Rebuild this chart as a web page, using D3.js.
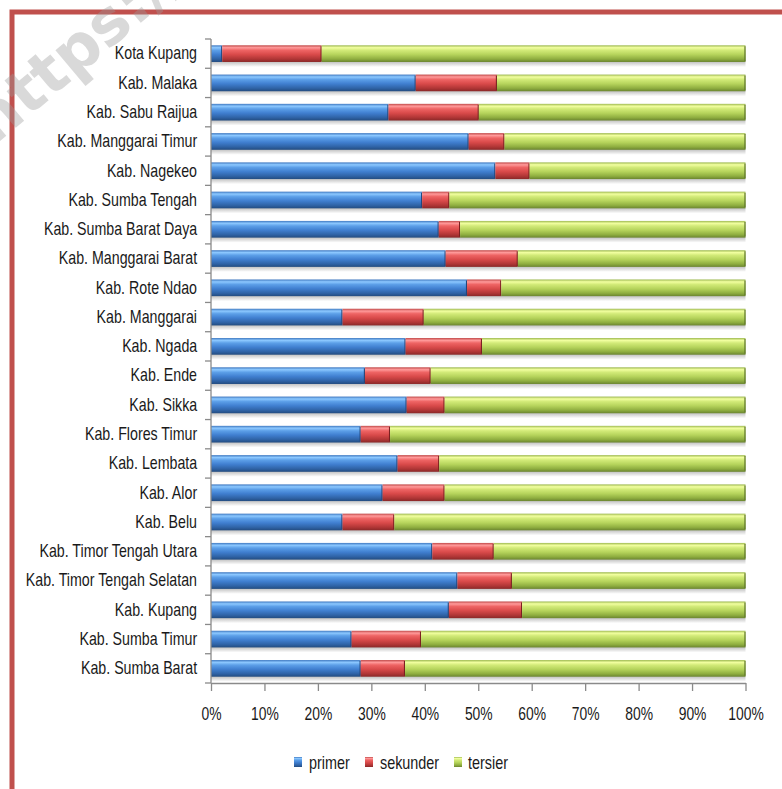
<!DOCTYPE html>
<html>
<head>
<meta charset="utf-8">
<script src="https://cdn.jsdelivr.net/npm/d3@7"></script>
<style>
  html, body { margin: 0; padding: 0; background: #fff; }
  svg { display: block; }
  text.lbl { font-family: "Liberation Sans", Arial, sans-serif; fill: #1a1a1a; transform-box: fill-box; }
  text.ylab { transform-origin: right center; transform: scaleX(0.79); }
  text.xlab { transform-origin: center center; transform: scaleX(0.77); }
  text.leg  { transform-origin: left center; transform: scaleX(0.8); }
</style>
</head>
<body>
<script>
// ---- data (top to bottom as drawn) ----
const categories = [
  "Kota Kupang", "Kab. Malaka", "Kab. Sabu Raijua", "Kab. Manggarai Timur",
  "Kab. Nagekeo", "Kab. Sumba Tengah", "Kab. Sumba Barat Daya", "Kab. Manggarai Barat",
  "Kab. Rote Ndao", "Kab. Manggarai", "Kab. Ngada", "Kab. Ende", "Kab. Sikka",
  "Kab. Flores Timur", "Kab. Lembata", "Kab. Alor", "Kab. Belu",
  "Kab. Timor Tengah Utara", "Kab. Timor Tengah Selatan", "Kab. Kupang",
  "Kab. Sumba Timur", "Kab. Sumba Barat"
];
const primer   = [2.1, 38.3, 33.2, 48.2, 53.2, 39.5, 42.6, 43.9, 47.9, 24.6, 36.4, 28.8, 36.6, 28.0, 34.9, 32.1, 24.6, 41.4, 46.1, 44.5, 26.3, 28.0];
const sekunder = [18.6, 15.2, 16.9, 6.7, 6.4, 5.1, 4.0, 13.5, 6.4, 15.2, 14.3, 12.3, 7.1, 5.5, 7.8, 11.6, 9.7, 11.5, 10.2, 13.7, 13.0, 8.3];
const tersier  = [79.3, 46.5, 49.9, 45.1, 40.4, 55.4, 53.4, 42.6, 45.7, 60.2, 49.3, 58.9, 56.3, 66.5, 57.3, 56.3, 65.7, 47.1, 43.7, 41.8, 60.7, 63.7];
const seriesNames = ["primer", "sekunder", "tersier"];
const xTicks = [0, 0.1, 0.2, 0.3, 0.4, 0.5, 0.6, 0.7, 0.8, 0.9, 1];

// ---- styles ----
const palette = {
  primer:   { stops: ["#3f78c0", "#8cc8ff", "#5c9fe8", "#407fd0", "#2f63a6", "#234c80"], edge: "#23467a" },
  sekunder: { stops: ["#c04848", "#ff9a9a", "#ee6464", "#d94a4a", "#b03636", "#8a2828"], edge: "#7a2020" },
  tersier:  { stops: ["#9cb850", "#f2ffa0", "#d2ea78", "#b6d45c", "#8fae40", "#6b8530"], edge: "#5d7428" }
};

const W = 782, H = 789;
const svg = d3.select("body").append("svg").attr("width", W).attr("height", H);
const defs = svg.append("defs");

Object.entries(palette).forEach(([k, p]) => {
  const g = defs.append("linearGradient").attr("id", "g-" + k)
    .attr("x1", 0).attr("y1", 0).attr("x2", 0).attr("y2", 1);
  const offs = [0, 0.14, 0.3, 0.55, 0.82, 1];
  p.stops.forEach((c, i) => g.append("stop").attr("offset", offs[i]).attr("stop-color", c));
});
const sh = defs.append("linearGradient").attr("id", "g-shadow")
  .attr("x1", 0).attr("y1", 0).attr("x2", 0).attr("y2", 1);
sh.append("stop").attr("offset", 0).attr("stop-color", "#000").attr("stop-opacity", 0.28);
sh.append("stop").attr("offset", 1).attr("stop-color", "#000").attr("stop-opacity", 0);

// ---- scales ----
const x = d3.scaleLinear().domain([0, 1]).range([211, 745.5]);
const y = d3.scaleBand().domain(categories).range([39, 683])
  .paddingInner(0.43).paddingOuter(0.215);

const rows = categories.map((c, i) => ({ cat: c, primer: primer[i], sekunder: sekunder[i], tersier: tersier[i] }));
const stacked = d3.stack().keys(seriesNames).offset(d3.stackOffsetExpand)(rows);

// ---- shadows under bars ----
svg.append("g").selectAll("rect").data(rows).join("rect")
  .attr("x", x(0)).attr("width", x(1) - x(0))
  .attr("y", d => y(d.cat) + y.bandwidth() - 1)
  .attr("height", 6)
  .attr("fill", "url(#g-shadow)");

// ---- bars ----
const layers = svg.append("g").selectAll("g").data(stacked).join("g");
layers.selectAll("rect").data(d => d.map(v => ({ v, key: d.key }))).join("rect")
  .attr("x", d => x(d.v[0]))
  .attr("width", d => Math.max(0, x(d.v[1]) - x(d.v[0])))
  .attr("y", d => y(d.v.data.cat))
  .attr("height", y.bandwidth())
  .attr("fill", d => "url(#g-" + d.key + ")");
layers.selectAll("line").data(d => d.map(v => ({ v, key: d.key }))).join("line")
  .attr("x1", d => x(d.v[1]) - 0.5).attr("x2", d => x(d.v[1]) - 0.5)
  .attr("y1", d => y(d.v.data.cat) + 1).attr("y2", d => y(d.v.data.cat) + y.bandwidth() - 1)
  .attr("stroke", d => palette[d.key].edge).attr("stroke-width", 1.2);

// ---- y axis ----
const axisColor = "#8a8a8a";
const yAxis = svg.append("g").attr("transform", `translate(${x(0)},0)`)
  .call(d3.axisLeft(y).tickSize(0).tickPadding(14));
yAxis.select(".domain").remove();
yAxis.attr("font-family", null);
yAxis.selectAll("text").attr("class", "lbl ylab").attr("font-size", 18).attr("fill", "#1a1a1a");
const step = y.step();
const boundaries = d3.range(categories.length + 1).map(i => 39 + i * step);
svg.append("g").selectAll("line").data(boundaries).join("line")
  .attr("x1", x(0) - 6).attr("x2", x(0))
  .attr("y1", d => d).attr("y2", d => d)
  .attr("stroke", axisColor).attr("stroke-width", 1.3);
svg.append("line").attr("x1", x(0)).attr("x2", x(0)).attr("y1", 39).attr("y2", 683)
  .attr("stroke", axisColor).attr("stroke-width", 1.3);

// ---- x axis ----
const xAxis = svg.append("g").attr("transform", "translate(0,683)")
  .call(d3.axisBottom(x).tickValues(xTicks).tickFormat(d3.format(".0%")).tickSize(8).tickPadding(16).tickSizeOuter(0));
xAxis.attr("font-family", null);
xAxis.select(".domain").attr("stroke", axisColor).attr("stroke-width", 1.3);
xAxis.selectAll(".tick line").attr("stroke", axisColor).attr("stroke-width", 1.3);
xAxis.selectAll("text").attr("class", "lbl xlab").attr("font-size", 18).attr("fill", "#1a1a1a");

// ---- legend ----
const legendItems = [
  { key: "primer", sx: 294, tx: 309 },
  { key: "sekunder", sx: 365, tx: 380 },
  { key: "tersier", sx: 454, tx: 468 }
];
const lg = svg.append("g");
lg.selectAll("rect").data(legendItems).join("rect")
  .attr("x", d => d.sx).attr("y", 757).attr("width", 8).attr("height", 10)
  .attr("fill", d => "url(#g-" + d.key + ")");
lg.selectAll("text").data(legendItems).join("text")
  .attr("class", "lbl leg")
  .attr("x", d => d.tx).attr("y", 769).attr("font-size", 18)
  .text(d => d.key);

// ---- frame ----
svg.append("rect").attr("x", 12).attr("y", 12).attr("width", 800).attr("height", 800)
  .attr("fill", "none").attr("stroke", "#c0504d").attr("stroke-width", 5);

// ---- watermark ----
svg.append("text")
  .attr("transform", "translate(-6,146) rotate(-40)")
  .attr("font-size", 62).attr("font-weight", "bold")
  .style("font-family", "DejaVu Sans, sans-serif")
  .style("fill", "#9a9a9a").style("fill-opacity", 0.38)
  .text("https://");
</script>
</body>
</html>
